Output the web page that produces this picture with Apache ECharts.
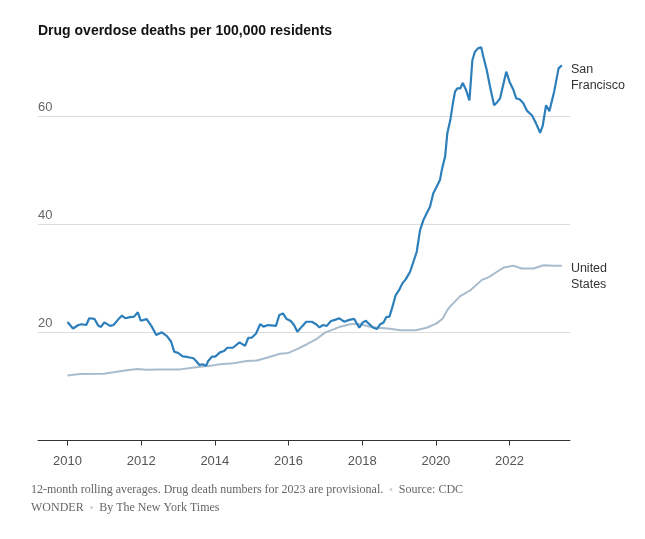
<!DOCTYPE html>
<html><head><meta charset="utf-8">
<script src="https://cdn.jsdelivr.net/npm/echarts@6/dist/echarts.min.js"></script>
<style>html,body{margin:0;padding:0;background:#fff}#c{width:645px;height:539px}</style>
</head><body><div id="c"></div>
<script>
const sfYears = [2010.00,2010.15,2010.30,2010.39,2010.51,2010.59,2010.73,2010.84,2010.91,2011.00,2011.16,2011.25,2011.38,2011.48,2011.57,2011.70,2011.81,2011.91,2011.99,2012.15,2012.29,2012.41,2012.56,2012.70,2012.81,2012.90,2013.00,2013.13,2013.28,2013.42,2013.49,2013.58,2013.67,2013.76,2013.82,2013.92,2014.01,2014.14,2014.25,2014.34,2014.49,2014.67,2014.82,2014.91,2015.00,2015.12,2015.23,2015.32,2015.45,2015.66,2015.75,2015.85,2015.95,2016.06,2016.15,2016.24,2016.36,2016.48,2016.63,2016.75,2016.84,2016.93,2017.04,2017.15,2017.26,2017.38,2017.51,2017.65,2017.78,2017.83,2017.92,2018.01,2018.10,2018.17,2018.30,2018.40,2018.49,2018.58,2018.65,2018.74,2018.82,2018.91,2019.00,2019.09,2019.18,2019.30,2019.39,2019.48,2019.57,2019.66,2019.75,2019.84,2019.93,2020.02,2020.11,2020.16,2020.25,2020.31,2020.39,2020.46,2020.52,2020.58,2020.66,2020.73,2020.82,2020.91,2020.99,2021.06,2021.14,2021.23,2021.29,2021.38,2021.47,2021.58,2021.67,2021.74,2021.91,2022.00,2022.10,2022.18,2022.27,2022.37,2022.47,2022.61,2022.72,2022.83,2022.90,2022.99,2023.08,2023.21,2023.33,2023.42];
const sfValues = [21.9,20.7,21.35,21.5,21.35,22.6,22.5,21.2,21.0,21.85,21.2,21.35,22.4,23.1,22.6,22.8,22.9,23.7,22.15,22.45,21.05,19.5,20.0,19.3,18.3,16.4,16.2,15.55,15.4,15.2,14.7,13.95,14.1,13.8,14.7,15.5,15.5,16.3,16.55,17.15,17.15,18.15,17.5,19.0,19.0,19.8,21.5,21.05,21.35,21.2,23.2,23.5,22.45,22.1,21.35,20.1,21.05,21.96,21.96,21.5,20.9,21.35,21.2,22.1,22.3,22.6,21.96,22.3,22.5,22.45,20.85,21.8,22.15,21.65,20.85,20.6,21.5,21.8,22.8,22.9,24.7,26.9,27.8,29.05,29.8,31.2,33.05,34.9,38.9,40.75,42.0,43.2,45.7,46.9,48.15,50.0,52.5,56.8,59.2,62.3,64.5,65.1,65.1,66.1,64.8,62.9,70.3,71.9,72.5,72.7,70.9,68.5,65.4,62.0,62.6,63.25,68.2,66.3,64.9,63.25,63.1,62.4,61.0,60.1,58.6,56.9,58.2,62.0,60.9,64.5,68.8,69.4];
const usYears = [2010.00,2010.34,2010.98,2011.25,2011.61,2011.88,2012.15,2012.52,2013.06,2013.33,2013.60,2013.87,2014.14,2014.50,2014.87,2015.14,2015.41,2015.77,2016.00,2016.23,2016.50,2016.77,2017.00,2017.22,2017.40,2017.67,2017.85,2018.03,2018.21,2018.45,2018.76,2019.03,2019.45,2019.75,2020.02,2020.18,2020.30,2020.40,2020.66,2020.93,2021.25,2021.45,2021.66,2021.85,2022.10,2022.33,2022.65,2022.92,2023.19,2023.42];
const usValues = [12.0,12.3,12.35,12.6,13.0,13.2,13.1,13.15,13.15,13.4,13.65,13.8,14.1,14.3,14.7,14.8,15.3,16.05,16.2,16.9,17.8,18.8,20.0,20.55,21.05,21.5,21.6,21.35,21.05,20.85,20.65,20.4,20.4,20.85,21.65,22.5,24.0,24.9,26.7,27.75,29.7,30.25,31.2,32.0,32.3,31.8,31.8,32.4,32.3,32.3];
const xTickYears = [2010,2012,2014,2016,2018,2020,2022];
const yTicks = [0,20,40,60];
const seriesNames = ['San\nFrancisco','United\nStates'];
const titleText = 'Drug overdose deaths per 100,000 residents';
const noteLine1 = '12-month rolling averages. Drug death numbers for 2023 are provisional.';
const noteSource = 'Source: CDC';
const noteLine2a = 'WONDER';
const noteLine2b = 'By The New York Times';

const zip = (xs, ys) => xs.map((x, i) => [x, ys[i]]);
const chart = echarts.init(document.getElementById('c'), null, {renderer: 'canvas'});
const sans = '"Liberation Sans", Arial, sans-serif';
const serif = '"Liberation Serif", Georgia, serif';
chart.setOption({
  animation: false,
  title: {
    text: titleText, left: 33, top: 19,
    textStyle: {fontSize: 14, fontWeight: 'bold', color: '#121212', fontFamily: sans}
  },
  grid: {left: 38, right: 75, top: 116, bottom: 98.5},
  xAxis: {
    type: 'value', min: 2009.2, max: 2023.64,
    axisLine: {show: true, lineStyle: {color: '#333', width: 1}},
    axisTick: {show: true, length: 5, lineStyle: {color: '#333'}, customValues: xTickYears},
    axisLabel: {customValues: xTickYears, color: '#555', fontSize: 13, fontFamily: sans, margin: 14, formatter: v => String(v)},
    splitLine: {show: false}
  },
  yAxis: {
    type: 'value', min: yTicks[0], max: yTicks[yTicks.length - 1], interval: 20,
    axisLine: {show: false}, axisTick: {show: false},
    axisLabel: {inside: true, margin: 0, verticalAlign: 'bottom', color: '#666', fontSize: 13, fontFamily: sans,
      padding: [0, 0, 2, 0], formatter: v => (v === 0 ? '' : String(v))},
    splitLine: {show: true, lineStyle: {color: '#dcdcdc', width: 1}}
  },
  series: [
    {
      name: seriesNames[1], type: 'line', data: zip(usYears, usValues), showSymbol: false, clip: false,
      lineStyle: {color: '#a8bccd', width: 2}, z: 2,
      endLabel: {show: true, formatter: seriesNames[1], color: '#333', fontSize: 12.5, fontFamily: sans,
        lineHeight: 16, distance: 9, offset: [0, 11]}
    },
    {
      name: seriesNames[0], type: 'line', data: zip(sfYears, sfValues), showSymbol: false, clip: false,
      lineStyle: {color: '#2d7fbb', width: 2.2}, z: 3,
      endLabel: {show: true, formatter: seriesNames[0], color: '#333', fontSize: 12.5, fontFamily: sans,
        lineHeight: 16, distance: 9, offset: [0, 12]}
    }
  ],
  graphic: [
    {
      type: 'text', left: 31, top: 481,
      style: {
        text: noteLine1 + '  {dot|•}  ' + noteSource + '\n' + noteLine2a + '  {dot|•}  ' + noteLine2b,
        fill: '#666', font: '12px ' + serif, lineHeight: 18,
        rich: {dot: {fill: '#ccc', fontSize: 10, fontFamily: sans}}
      }
    }
  ]
});
</script></body></html>
